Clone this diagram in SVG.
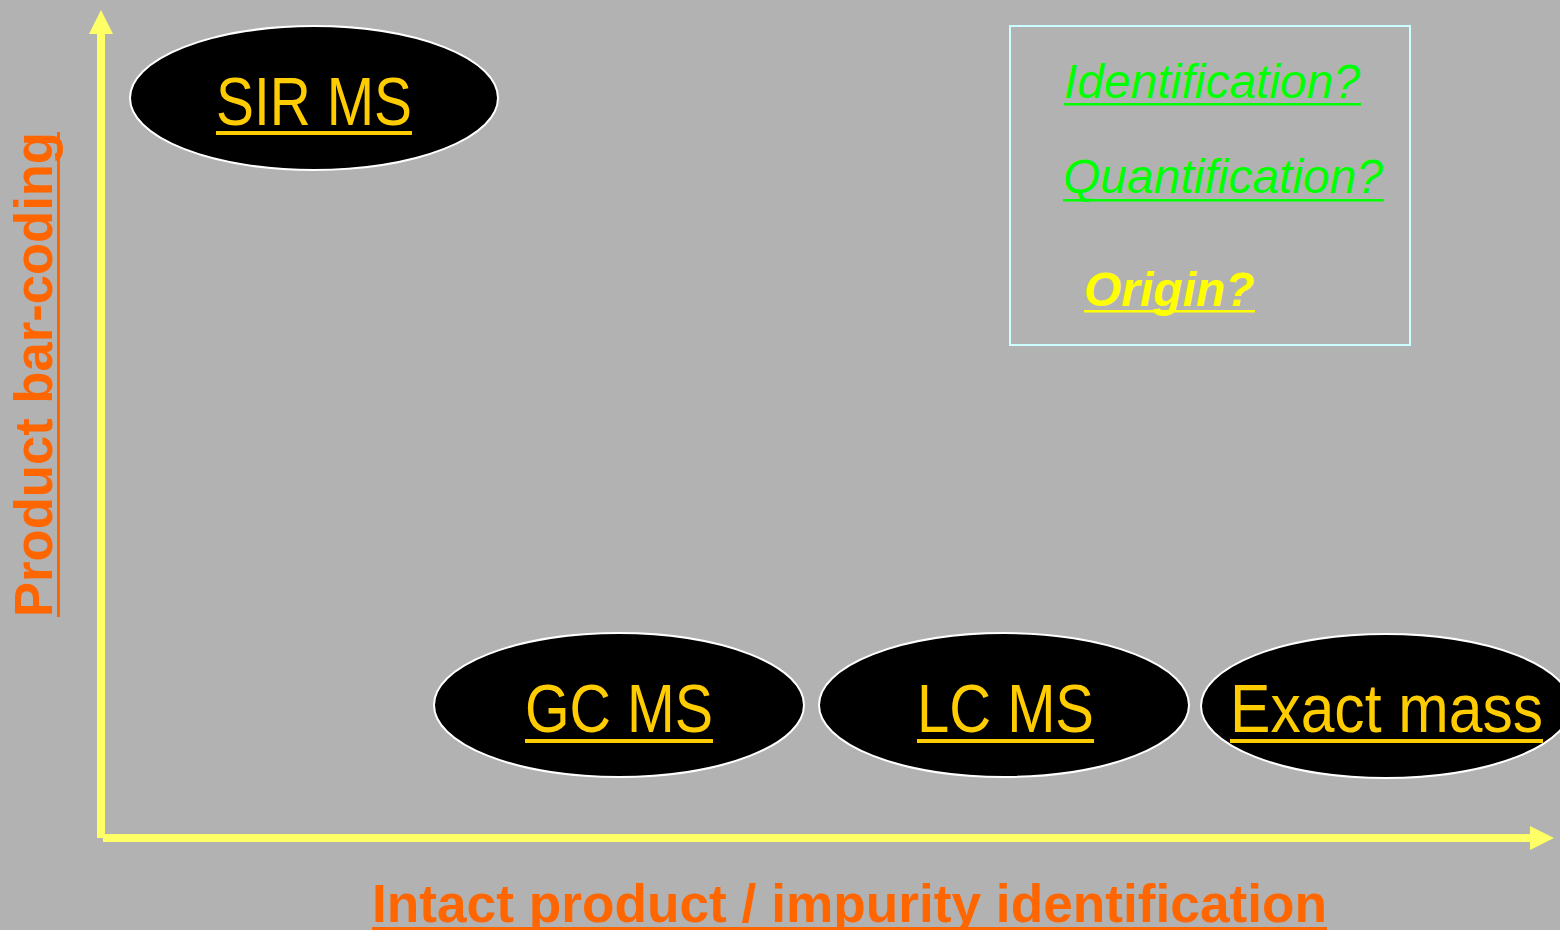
<svg xmlns="http://www.w3.org/2000/svg" width="1560" height="930" viewBox="0 0 1560 930">
<style>
.node ellipse{fill:#000;stroke:#fff;stroke-width:2}
.lbl{font-family:"Liberation Sans",Arial,sans-serif;font-size:69px;fill:#ffcc00}
.ul{fill:#ffcc00}
.axis{stroke:#ffff66;stroke-width:8;fill:none}
.head{fill:#ffff66}
.ax{font-family:"Liberation Sans",Arial,sans-serif;font-weight:bold;font-size:53px;fill:#ff6600}
.q{font-family:"Liberation Sans",Arial,sans-serif;font-style:italic;font-size:48px}
</style>
<rect x="0" y="0" width="1560" height="930" fill="#b2b2b2"/>
<g id="connectors">
<line class="axis" x1="101" y1="30" x2="101" y2="838"/>
<line class="axis" x1="103" y1="838" x2="1534" y2="838"/>
<polygon class="head" points="101,10 113,34 89,34"/>
<polygon class="head" points="1554,838 1530,826 1530,850"/>
</g>
<g id="y-axis-label">
<text class="ax" transform="translate(52,617) rotate(-90)" textLength="485" lengthAdjust="spacingAndGlyphs">Product bar-coding</text>
<rect x="57" y="132" width="3" height="485" fill="#ff6600"/>
</g>
<g id="x-axis-label">
<text class="ax" x="372" y="922" textLength="955" lengthAdjust="spacingAndGlyphs">Intact product / impurity identification</text>
<rect x="372" y="927" width="955" height="3" fill="#ff6600"/>
</g>
<g id="sir-ms" class="node">
<ellipse cx="314" cy="98" rx="184" ry="72"/>
<text class="lbl" x="216" y="125" textLength="196" lengthAdjust="spacingAndGlyphs">SIR MS</text>
<rect class="ul" x="216" y="131" width="196" height="4"/>
</g>
<g id="gc-ms" class="node">
<ellipse cx="619" cy="705" rx="185" ry="72"/>
<text class="lbl" x="525" y="732" textLength="188" lengthAdjust="spacingAndGlyphs">GC MS</text>
<rect class="ul" x="525" y="739" width="188" height="4"/>
</g>
<g id="lc-ms" class="node">
<ellipse cx="1004" cy="705" rx="185" ry="72"/>
<text class="lbl" x="917" y="732" textLength="177" lengthAdjust="spacingAndGlyphs">LC MS</text>
<rect class="ul" x="917" y="739" width="177" height="4"/>
</g>
<g id="exact-mass" class="node">
<ellipse cx="1386" cy="706" rx="185" ry="72"/>
<text class="lbl" x="1230" y="732" textLength="313" lengthAdjust="spacingAndGlyphs">Exact mass</text>
<rect class="ul" x="1230" y="739" width="313" height="4"/>
</g>
<g id="questions-box">
<rect x="1010" y="26" width="400" height="319" fill="none" stroke="#ccffff" stroke-width="2"/>
<text class="q" x="1064" y="98" fill="#00ff00">Identification?</text>
<rect x="1064" y="103" width="297" height="2.5" fill="#00ff00"/>
<text class="q" x="1063" y="193" fill="#00ff00">Quantification?</text>
<rect x="1063" y="199" width="321" height="2.5" fill="#00ff00"/>
<text class="q" x="1084" y="306" fill="#ffff00" font-weight="bold">Origin?</text>
<rect x="1084" y="310" width="171" height="2.5" fill="#ffff00"/>
</g>
</svg>
